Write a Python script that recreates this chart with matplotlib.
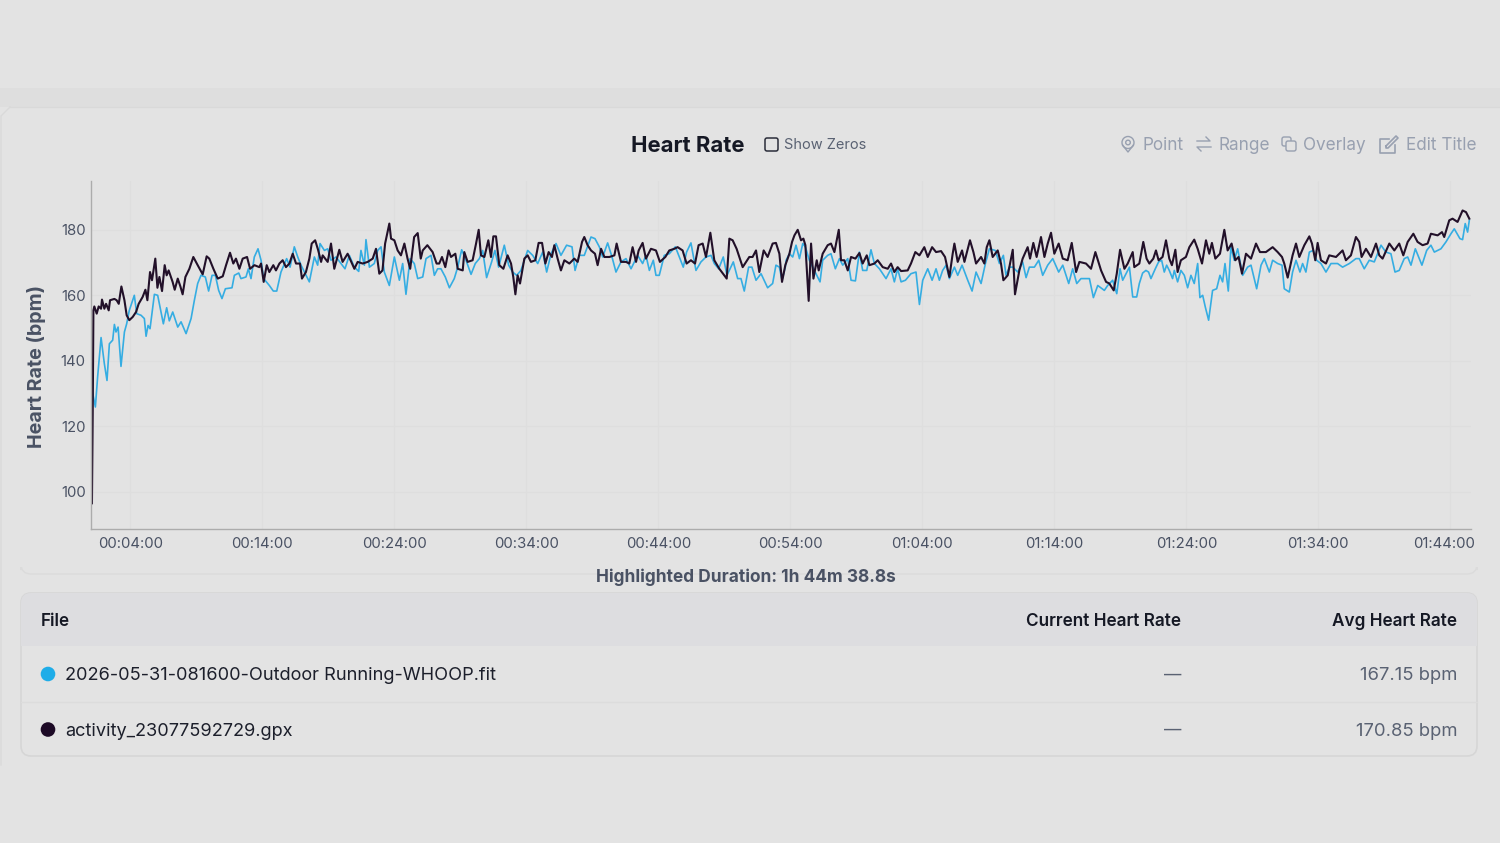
import matplotlib
matplotlib.use("Agg")
import matplotlib.pyplot as plt
from matplotlib.patches import FancyBboxPatch, Circle, Rectangle
from matplotlib.transforms import ScaledTranslation

plt.rcParams["font.family"] = ["Inter", "DejaVu Sans"]

# minutes since start, bpm
dark_min = [1.09, 1.15, 1.2, 1.27, 1.45, 1.6, 1.78, 1.85, 2.03, 2.16, 2.36, 2.46, 2.79, 2.96, 3.12, 3.32, 3.55, 3.72, 3.92,
            4.18, 4.43, 4.63, 4.93, 5.14, 5.29, 5.49, 5.64, 5.89, 6.05, 6.2, 6.4, 6.6, 6.75, 6.9, 7.2, 7.36, 7.59, 7.79, 7.96,
            8.17, 8.47, 8.77, 9.1, 9.48, 9.78, 9.98, 10.29, 10.62, 11.0, 11.25, 11.55, 11.8, 12.0, 12.26, 12.51, 12.84, 13.07,
            13.4, 13.77, 13.9, 14.1, 14.33, 14.53, 14.83, 15.03, 15.29, 15.54, 15.79, 16.05, 16.3, 16.55, 16.85, 17.0, 17.3,
            17.56, 17.74, 18.0, 18.22, 18.45, 18.57, 18.95, 19.2, 19.45, 19.83, 20.08, 20.46, 20.97, 21.22, 21.6, 21.98, 22.36,
            22.61, 22.86, 23.1, 23.3, 23.62, 23.75, 24.0, 24.25, 24.5, 24.76, 25.0, 25.2, 25.5, 25.77, 26.0, 26.15, 26.5, 26.9,
            27.2, 27.4, 27.61, 27.86, 28.11, 28.29, 28.62, 28.8, 29.18, 29.3, 29.55, 29.93, 30.19, 30.39, 30.56, 30.82, 31.12,
            31.32, 31.5, 31.7, 31.95, 32.26, 32.58, 32.84, 33.01, 33.17, 33.34, 33.52, 33.85, 34.1, 34.35, 34.68, 34.93, 35.19,
            35.44, 35.69, 35.94, 36.12, 36.37, 36.62, 36.88, 37.26, 37.63, 37.89, 38.22, 38.39, 38.64, 38.9, 39.2, 39.4, 39.66,
            39.91, 40.29, 40.67, 40.84, 41.17, 41.55, 41.8, 42.05, 42.31, 42.51, 42.81, 43.06, 43.44, 43.82, 44.12, 44.53, 44.83,
            45.21, 45.46, 45.84, 46.14, 46.47, 46.78, 47.05, 47.36, 47.61, 47.94, 48.24, 48.62, 49.0, 49.18, 49.38, 49.63, 49.93,
            50.39, 50.89, 51.14, 51.4, 51.65, 51.98, 52.28, 52.66, 52.91, 53.17, 53.37, 53.62, 53.93, 54.13, 54.31, 54.56, 54.81,
            54.99, 55.14, 55.39, 55.57, 55.75, 56.0, 56.15, 56.45, 56.83, 57.08, 57.34, 57.67, 57.84, 58.09, 58.35, 58.6, 58.93,
            59.23, 59.48, 59.79, 59.99, 60.37, 60.62, 61.0, 61.38, 61.63, 61.88, 62.13, 62.39, 62.89, 63.14, 63.47, 63.78, 64.15,
            64.41, 64.74, 65.04, 65.42, 65.72, 66.05, 66.3, 66.43, 66.68, 67.01, 67.19, 67.61, 67.87, 68.07, 68.45, 68.7, 68.88,
            69.08, 69.33, 69.71, 69.96, 70.14, 70.47, 70.85, 71.02, 71.35, 71.6, 71.98, 72.16, 72.41, 72.66, 72.99, 73.25, 73.5,
            73.75, 74.0, 74.33, 74.64, 75.01, 75.32, 75.65, 75.9, 76.4, 76.78, 77.11, 77.54, 77.92, 78.17, 78.5, 78.73, 78.98,
            79.31, 79.56, 79.94, 80.06, 80.44, 80.74, 80.99, 81.2, 81.5, 81.7, 81.9, 82.2, 82.46, 82.71, 82.91, 83.17, 83.34,
            83.59, 83.97, 84.23, 84.6, 84.86, 85.19, 85.49, 85.74, 85.94, 86.2, 86.55, 86.88, 87.13, 87.43, 87.71, 87.96, 88.22,
            88.52, 88.9, 89.28, 89.58, 90.03, 90.54, 90.92, 91.25, 91.42, 91.68, 92.05, 92.31, 92.56, 92.94, 93.32, 93.52, 93.77,
            93.95, 94.2, 94.58, 94.83, 95.34, 95.84, 96.09, 96.47, 96.85, 97.1, 97.28, 97.61, 97.99, 98.37, 98.62, 98.87, 99.38,
            99.76, 100.13, 100.44, 100.77, 101.2, 101.52, 101.9, 102.28, 102.53, 103.04, 103.37, 103.54, 103.92, 104.17, 104.55,
            104.93, 105.19, 105.44]
dark_bpm = [96.5, 125, 155.4, 156.6, 154.4, 156.6, 155.9, 158.7, 155.9, 157.4, 155.4, 158.5, 158.9, 158.5, 157.4, 162.7, 158.5, 153.9, 152.4,
            153.4, 154.9, 157.4, 159.5, 161.7, 158.5, 167.1, 164.6, 171.2, 162.3, 165.6, 161.3, 169.2, 166.1, 167.6, 164.1, 161.7, 165.1, 162.7, 160.3,
            165.6, 168.1, 171.7, 169.2, 166.4, 171.9, 171.2, 168.1, 165.1, 165.8, 169.2, 173, 169.7, 171.2, 168.1, 171.2, 171.7, 168.1,
            169.2, 168.6, 169.7, 164.1, 169.2, 167.1, 169.2, 167.6, 169.7, 170.7, 168.6, 169.7, 172.7, 169.7, 169.7, 165.1, 167.1,
            171.2, 175.8, 176.8, 173.9, 170.2, 172.2, 170.2, 175.8, 168.1, 173.9, 170.2, 172.7, 168.1, 170.2, 169.7, 170.2, 171.2,
            174.2, 166.6, 167.6, 175.8, 181.9, 177.3, 176.8, 173.7, 172.2, 175.8, 171.2, 168.1, 177.8, 179, 171.2, 173.7, 175.3, 173.2,
            169.7, 169.7, 171.7, 168.6, 173.7, 171.7, 172.7, 168.1, 167.6, 173.2, 170.2, 170.7, 175.8, 180, 172.2, 171.7, 176.8,
            171.7, 178, 178, 169.2, 168.1, 172.2, 169.7, 165.6, 160.3, 166.1, 163.6, 171.2, 172.2, 170.2, 170.7, 176, 176,
            169.7, 173.2, 171.7, 175.3, 171.2, 167.6, 170.7, 169.7, 171.2, 170.2, 176.3, 177.8, 175.3, 173.7, 172.7, 169.2, 174.2,
            171.7, 171.7, 172.2, 175.8, 170.2, 170.2, 169.7, 174.7, 170.2, 173.7, 176, 171.2, 174.2, 173.7, 170.2, 171.7, 173.7,
            174.2, 174.7, 173.7, 169.7, 170.7, 169.7, 175.3, 175.8, 171.7, 179.1, 170.7, 168.1, 166.1, 165.1, 177.3, 176.8, 174.2,
            168.6, 171.7, 171.7, 173.7, 167.1, 173.7, 171.7, 175.8, 176, 172.7, 164.1, 169.2, 172.7, 176.3, 178.3, 180, 176.8,
            177.3, 175.3, 158.3, 175.8, 165.1, 170.7, 167.6, 172.7, 175.3, 175.8, 173.2, 180, 170.7, 170.7, 167.6, 171.7, 171.2,
            172.9, 169.7, 172.2, 169.2, 169.7, 170.7, 168.6, 168.1, 169.7, 167.1, 168.6, 167.4, 167.6, 169.7, 173.2, 172.2, 174.7,
            171.7, 174.7, 173.2, 173.5, 171.7, 165.6, 172.7, 175.8, 170.2, 173.7, 170.2, 176.8, 173.2, 169.7, 171.7, 169.7, 174.7,
            176.8, 171.7, 173.7, 169.7, 164.6, 166.1, 173.9, 160.3, 167.6, 171.2, 174.7, 171.2, 176, 171.7, 177.8, 171.7, 175.8,
            179.1, 172.7, 175.8, 171.2, 170.7, 176, 167.1, 170.2, 169.7, 168.1, 173.2, 167.6, 164.1, 163.6, 161.5, 166.6, 173.9,
            168.1, 169.7, 173.2, 168.6, 169.7, 176.3, 171.2, 169.7, 171.2, 173.7, 170.7, 171.7, 176.8, 171.2, 169.2, 173.9, 167.1,
            170.7, 171.7, 174.7, 177, 174.2, 169.7, 176.8, 172.7, 176, 171.2, 172.7, 180, 173.7, 175.8, 170.7, 171.7, 166.6,
            172.7, 171.2, 175.8, 173.2, 173.2, 174.7, 173.2, 171.7, 169.7, 165.4, 172.2, 175.8, 171.7, 175.3, 178, 175.8, 170.7,
            176, 170.7, 169.7, 172.2, 171.7, 173.7, 170.7, 172.2, 177.8, 176.3, 171.7, 174.2, 171.7, 175.8, 172.2, 171.2, 175.8,
            173.7, 175.8, 172.2, 176.3, 178.8, 176.3, 175.3, 175.8, 178.8, 178.3, 179.3, 177.8, 182.9, 183.4, 182.4,
            185.9, 185.4, 183.4]

blue_min = [1.0, 1.1, 1.35, 1.52, 1.78, 2.03, 2.23, 2.41, 2.66, 2.79, 2.91, 3.07, 3.29, 3.55, 3.72, 3.92, 4.3, 4.48, 4.81, 5.06, 5.19,
            5.34, 5.49, 5.82, 6.07, 6.5, 6.75, 6.95, 7.21, 7.59, 7.84, 8.22, 8.6, 8.85, 9.1, 9.35, 9.68, 9.93, 10.19, 10.44, 10.69,
            10.94, 11.2, 11.7, 11.88, 12.21, 12.38, 12.76, 12.94, 13.14, 13.39, 13.67, 13.9, 14.1, 14.53, 14.83, 15.09, 15.41, 15.84,
            16.1, 16.42, 16.68, 16.93, 17.31, 17.56, 17.94, 18.19, 18.37, 18.7, 18.95, 19.2, 19.58, 19.96, 20.26, 20.59, 20.97, 21.3,
            21.47, 21.73, 21.85, 22.11, 22.48, 22.74, 22.99, 23.24, 23.62, 24.0, 24.38, 24.63, 24.88, 25.19, 25.51, 25.77, 26.15, 26.4,
            26.78, 27.03, 27.28, 27.53, 27.86, 28.17, 28.54, 28.8, 29.1, 29.43, 29.81, 30.13, 30.44, 30.69, 30.99, 31.37, 31.62, 31.9,
            32.33, 32.66, 32.96, 33.27, 33.59, 34.1, 34.48, 34.86, 35.24, 35.54, 35.87, 36.25, 36.62, 37.05, 37.46, 37.69, 38.01, 38.39,
            38.9, 39.2, 39.53, 39.78, 40.16, 40.49, 40.79, 41.17, 41.55, 41.93, 42.43, 42.81, 43.06, 43.32, 43.62, 43.82, 44.07, 44.45,
            44.83, 45.29, 45.59, 45.89, 46.14, 46.47, 46.85, 47.23, 47.61, 47.99, 48.24, 48.57, 48.92, 49.2, 49.68, 50.01, 50.26, 50.51,
            50.84, 51.09, 51.4, 51.78, 52.28, 52.66, 52.91, 53.17, 53.37, 53.62, 53.68, 53.93, 54.18, 54.43, 54.69, 54.94, 55.14, 55.44,
            55.82, 56.25, 56.45, 56.83, 57.08, 57.41, 57.72, 57.97, 58.35, 58.6, 58.93, 59.23, 59.48, 59.79, 60.11, 60.37, 60.75, 61.25,
            61.63, 61.88, 62.13, 62.39, 62.72, 63.14, 63.52, 63.78, 64.03, 64.41, 64.74, 65.04, 65.29, 65.54, 65.8, 66.05, 66.43, 66.68,
            67.01, 67.44, 67.77, 68.07, 68.45, 68.78, 69.08, 69.53, 69.84, 70.14, 70.34, 70.59, 70.85, 71.23, 71.6, 71.86, 72.11, 72.49,
            72.82, 73.12, 73.5, 73.88, 74.33, 74.64, 75.09, 75.39, 75.7, 76.02, 76.66, 76.96, 77.29, 77.79, 78.04, 78.42, 78.73, 78.98,
            79.18, 79.69, 79.94, 80.24, 80.44, 80.69, 80.94, 81.14, 81.32, 81.65, 81.9, 82.13, 82.33, 82.51, 82.71, 82.96, 83.09, 83.34,
            83.59, 83.85, 84.1, 84.35, 84.6, 84.86, 85.03, 85.24, 85.44, 85.69, 85.99, 86.3, 86.55, 86.75, 86.93, 87.18, 87.38, 87.63,
            87.89, 88.27, 88.64, 88.9, 89.33, 89.66, 89.91, 90.29, 90.54, 90.92, 91.25, 91.42, 91.8, 92.05, 92.31, 92.61, 92.81, 93.06,
            93.32, 93.62, 93.87, 94.2, 94.58, 94.96, 95.46, 95.84, 96.35, 96.85, 97.1, 97.48, 97.86, 98.24, 98.75, 99.12, 99.5, 99.81,
            100.13, 100.51, 100.77, 101.02, 101.35, 101.85, 102.21, 102.53, 102.79, 103.29, 103.67, 104.05, 104.3, 104.73, 104.93, 105.13,
            105.31, 105.44]
blue_bpm = [110, 131, 125.9, 135.1, 147.1, 139.1, 134, 145.2, 146.3, 151.1, 148.8, 150.3, 138.3, 148.8, 151.3, 155.4, 160, 154.4, 153.9, 152.9, 147.5,
            150.8, 149.8, 160.3, 160, 151.3, 156.2, 152.2, 154.9, 150.3, 151.9, 148.3, 152.9, 158.5, 163.6, 166.1, 165.6, 161.3, 166.1, 166.1, 161.5,
            159, 162, 162.3, 166.1, 166.8, 165.1, 165.6, 168.1, 165.1, 171.7, 174.2, 170.7, 165.1, 163, 161.3, 161.3, 167.1, 171.2,
            168.6, 174.8, 171.7, 169.2, 166.1, 164.1, 171.7, 169.2, 175.8, 173.7, 174.2, 170.7, 171.7, 169.7, 168.1, 172.2, 168.6, 167.3,
            173.7, 169.2, 177, 168.6, 169.7, 173.7, 174.8, 167.1, 163, 171.7, 164.6, 169.7, 160.3, 171.2, 169.7, 165.1, 165.6, 171.2,
            172.2, 166.1, 168.1, 168.1, 165.6, 162.3, 165.1, 168.6, 173.9, 170.7, 166.4, 169.7, 171.2, 173.7, 165.4, 170.2, 173.7, 168.6,
            175.3, 169.2, 167.1, 166.1, 167.6, 173.7, 172.2, 169.7, 173.2, 167.1, 172.7, 175.8, 172.2, 175.3, 174.8, 167.6, 172.2, 172.2,
            177.8, 177.3, 174.8, 171.7, 176, 171.7, 167.1, 170.2, 171.2, 168.1, 172.2, 169.7, 172.2, 167.6, 170.7, 166.1, 166.1, 172.2,
            172.7, 174.8, 171.7, 168.6, 173.2, 176, 167.6, 170.2, 171.7, 172.2, 169.7, 168.1, 171.7, 166.1, 170.2, 165.1, 165.1, 161.3,
            168.6, 168.6, 164.6, 166.6, 162.3, 163.6, 169.2, 168.6, 164.6, 168.6, 170.7, 172.7, 171.7, 175.3, 171.2, 175.8, 174.8, 170.7,
            167.6, 164.1, 170.7, 172.2, 172.7, 168.1, 171.2, 169.2, 171.2, 164.6, 164.4, 173.2, 167.6, 167.6, 173.9, 169.7, 168.1, 165.1,
            168.1, 164.1, 168.1, 164.1, 164.6, 166.6, 167.1, 157.2, 164.6, 168.1, 164.6, 168.1, 164.6, 167.6, 169.2, 165.1, 168.6, 166.1,
            169.2, 164.6, 161.3, 167.1, 163.6, 169.7, 174.2, 173.7, 169.7, 172.2, 166.1, 168.6, 168.6, 167.1, 170.2, 165.4, 168.6, 168.6,
            170.7, 166.1, 169.2, 171.2, 167.1, 169.2, 163.6, 168.1, 163.6, 165.1, 165.1, 159.3, 163, 161.5, 163, 164.6, 160.5, 168.1,
            164.6, 168.6, 159.5, 159.5, 163.6, 166.8, 167.6, 167.1, 165.1, 168.1, 170.2, 170.7, 167.1, 169.2, 167.6, 165.1, 167.6, 164.1,
            167.6, 166.1, 162.3, 166.1, 163.6, 169.7, 159.3, 160, 156.4, 152.4, 161.5, 162, 166.1, 164.1, 169.7, 161.3, 174.8, 170.7,
            174.2, 166.1, 168.6, 169.2, 162, 169.2, 171.2, 167.1, 170.7, 169.7, 169.2, 162, 161, 167.1, 170.7, 167.1, 169.7, 167.1,
            173.2, 173.7, 170.7, 169.7, 167.1, 169.7, 169.7, 168.6, 169.7, 171.2, 171.2, 168.1, 170.7, 170.2, 175.3, 173.2, 172.7, 167.1,
            167.6, 171.2, 171.7, 169.2, 174.2, 169.2, 173.7, 175.3, 173.2, 174.2, 176.3, 178.8, 180.3, 177.3, 177, 181.9,
            179.3, 182.9]

tick_min = [4, 14, 24, 34, 44, 54, 64, 74, 84, 94, 104]
tick_labels = ["00:04:00", "00:14:00", "00:24:00", "00:34:00", "00:44:00", "00:54:00",
               "01:04:00", "01:14:00", "01:24:00", "01:34:00", "01:44:00"]
y_ticks = [100, 120, 140, 160, 180]

table_files = ["2026-05-31-081600-Outdoor Running-WHOOP.fit", "activity_23077592729.gpx"]
table_avg = ["167.15 bpm", "170.85 bpm"]

BLUE = "#35ade2"
DARK = "#221029"
BG = "#e3e3e3"

fig = plt.figure(figsize=(15, 8.43), dpi=100, facecolor=BG)

# page background, card and table, drawn in image pixels
bg = fig.add_axes([0, 0, 1, 1], zorder=0)
bg.set_xlim(0, 1500)
bg.set_ylim(843, 0)
bg.axis("off")
bg.add_patch(Rectangle((0, 88), 1500, 19, fc="#dedede", ec="none"))
bg.add_patch(FancyBboxPatch((9, 107), 1500, 700, boxstyle="round,pad=0,rounding_size=8", fc=BG, ec="none"))
bg.add_patch(Rectangle((0, 107), 1500, 660, fc=BG, ec="none"))
bg.plot([1, 1, 10], [765, 116, 107], color="#d9d9d9", lw=1)
bg.plot([10, 1500], [107, 107], color="#d9d9d9", lw=1)
bg.add_patch(FancyBboxPatch((21, 560), 1456, 14, boxstyle="round,pad=0,rounding_size=10", fc="none", ec="#dbdbdb", lw=1))
bg.add_patch(Rectangle((15, 540), 1470, 27, fc=BG, ec="none"))

bg.add_patch(FancyBboxPatch((21, 593), 1456, 163, boxstyle="round,pad=0,rounding_size=10", fc=BG, ec="#d6d6d6", lw=1.2))
bg.add_patch(FancyBboxPatch((21, 593), 1456, 53, boxstyle="round,pad=0,rounding_size=10", fc="#dddde0", ec="none"))
bg.add_patch(Rectangle((21, 630), 1456, 16, fc="#dddde0", ec="none"))
bg.plot([21, 1477], [701.5, 701.5], color="#dcdcdc", lw=1)

bg.text(687.5, 145.5, "Heart Rate", fontsize=15.9, fontweight="bold", color="#151824", ha="center", va="center")
bg.add_patch(FancyBboxPatch((765, 138), 13, 13, boxstyle="round,pad=0,rounding_size=2", fc=BG, ec="#2a2d3a", lw=1.1))
bg.text(784, 145, "Show Zeros", fontsize=10.5, color="#5a6273", ha="left", va="center")

# toolbar
GREY = "#98a0b0"
for x, label in [(1142, "Point"), (1218, "Range"), (1303.5, "Overlay"), (1406, "Edit Title")]:
    bg.text(x, 145.5, label, fontsize=12.35, color=GREY, ha="left", va="center")
bg.add_patch(Circle((1128, 142.5), 6, fc="none", ec=GREY, lw=1))
bg.add_patch(Circle((1128, 142.5), 2.3, fc="none", ec=GREY, lw=1))
bg.plot([1122.5, 1128, 1133.5], [145, 152, 145], color=GREY, lw=1)
bg.plot([1197, 1210, 1206], [141, 141, 137], color=GREY, lw=1)
bg.plot([1211, 1197, 1201], [147, 147, 151], color=GREY, lw=1)
bg.add_patch(FancyBboxPatch((1282, 137), 9, 9, boxstyle="round,pad=0,rounding_size=2", fc="none", ec=GREY, lw=1))
bg.add_patch(FancyBboxPatch((1286, 141), 10, 10, boxstyle="round,pad=0,rounding_size=2", fc=BG, ec=GREY, lw=1))
bg.plot([1389, 1380, 1380, 1395, 1395], [139, 139, 153, 153, 145], color=GREY, lw=1.2)
bg.plot([1386, 1396, 1398, 1388, 1386, 1386], [146, 136, 138, 148, 148, 146], color=GREY, lw=1.2)

bg.text(745.5, 577.5, "Highlighted Duration: 1h 44m 38.8s", fontsize=12.45, fontweight="bold", color="#4a5264", ha="center", va="center")

# table
bg.text(41, 621.5, "File", fontsize=12.3, fontweight="semibold", color="#151824", va="center")
bg.text(1181, 621.5, "Current Heart Rate", fontsize=12.35, fontweight="semibold", color="#151824", va="center", ha="right")
bg.text(1457, 621.5, "Avg Heart Rate", fontsize=12.35, fontweight="semibold", color="#151824", va="center", ha="right")
for y, name, avg, col in zip([674, 729.5], table_files, table_avg, ["#1fade8", "#1d0a26"]):
    bg.add_patch(Circle((48, y), 7.3, fc=col, ec="none"))
    bg.text(65, y + 1.5, name, fontsize=13.1, color="#1c1f2b", va="center")
    bg.text(1173, y + 1, "—", fontsize=12.5, color="#5a6273", va="center", ha="center")
    bg.text(1457, y + 1.5, avg, fontsize=13.3, color="#5a6273", va="center", ha="right")

# chart
ax = fig.add_axes([90.5 / 1500, 1 - 528.5 / 843, (1470.5 - 90.5) / 1500, (528.5 - 181) / 843], zorder=1)
ax.patch.set_alpha(0)
ax.plot(blue_min, blue_bpm, color=BLUE, lw=1.2, solid_joinstyle="round")
ax.plot(dark_min, dark_bpm, color=DARK, lw=1.5, solid_joinstyle="round")
ax.set_xlim(0.98, 105.53)
ax.set_ylim(88.8, 194.9)
ax.set_xticks(tick_min)
ax.set_xticklabels(tick_labels)
ax.set_yticks(y_ticks)
ax.tick_params(length=0, labelsize=10.75, labelcolor="#4a5264", pad=6)
ax.tick_params(axis="y", pad=3.5)
ax.grid(True, color="#dedede", lw=0.9)
ax.set_axisbelow(True)
ax.set_ylabel("Heart Rate (bpm)", fontsize=14.2, fontweight="bold", color="#4a5264")
ax.yaxis.set_label_coords(-0.0325, 0.465)
for side in ["top", "right"]:
    ax.spines[side].set_visible(False)
for side in ["left", "bottom"]:
    ax.spines[side].set_color("#acacac")
    ax.spines[side].set_linewidth(1)
# last tick label is pushed in from the edge
last = ax.get_xticklabels()[-1]
last.set_transform(last.get_transform() + ScaledTranslation(-6 / 100, 0, fig.dpi_scale_trans))

fig.savefig("out.png", dpi=100, facecolor=BG)
